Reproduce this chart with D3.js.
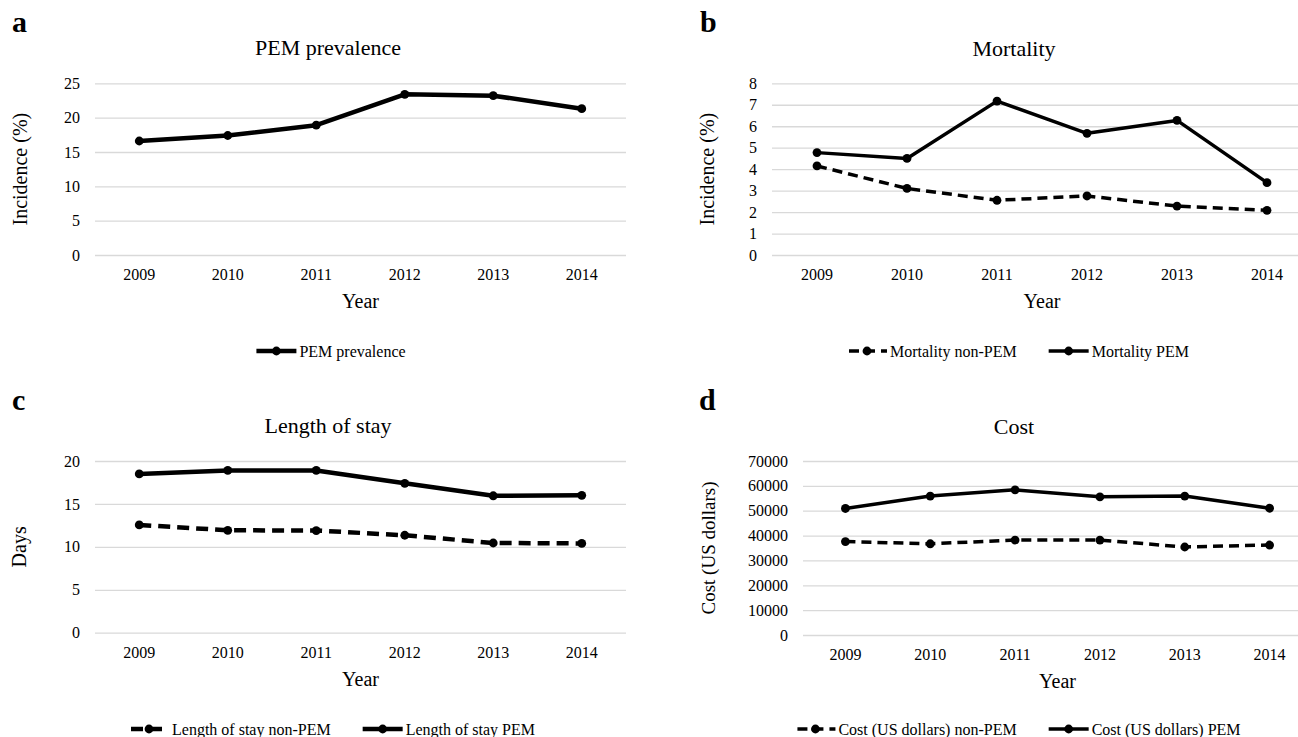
<!DOCTYPE html>
<html>
<head>
<meta charset="utf-8">
<script src="https://cdn.jsdelivr.net/npm/d3@7"></script>
<style>
  body { margin: 0; background: #fff; }
  svg { display: block; }
  text { font-family: "Liberation Serif", "Times New Roman", serif; fill: #000; }
</style>
</head>
<body>
<script>
// data
var years = ["2009", "2010", "2011", "2012", "2013", "2014"];

var pemPrevalence = [16.6, 17.4, 18.9, 23.4, 23.2, 21.3];

var mortalityNonPem = [4.15, 3.1, 2.55, 2.75, 2.28, 2.08];
var mortalityPem = [4.77, 4.5, 7.17, 5.67, 6.27, 3.37];

var losNonPem = [12.55, 11.93, 11.9, 11.35, 10.45, 10.4];
var losPem = [18.5, 18.9, 18.9, 17.4, 15.95, 16.0];

var costNonPem = [37600, 36700, 38200, 38200, 35400, 36200];
var costPem = [50900, 55900, 58400, 55600, 55900, 51000];

var prevalenceTicks = [0, 5, 10, 15, 20, 25];
var mortalityTicks = [0, 1, 2, 3, 4, 5, 6, 7, 8];
var daysTicks = [0, 5, 10, 15, 20];
var costTicks = [0, 10000, 20000, 30000, 40000, 50000, 60000, 70000];

var width = 1298, height = 737;

var svg = d3.select("body").append("svg")
    .attr("width", width)
    .attr("height", height);

// panel layouts
var panels = [
  {
    letter: "a", lx: 12, ly: 32,
    title: "PEM prevalence", tx: 328, ty: 55,
    yTitle: "Incidence (%)", ytx: 21, ytSize: 20,
    x0: 95, x1: 626, yTop: 83.3, yBot: 255,
    ticks: prevalenceTicks, lw: 4.5, dash: "12,7",
    tickY: 280, yearY: 308, legX: 331, legY: 351,
    series: [{ name: "PEM prevalence", values: pemPrevalence, dashed: false }]
  },
  {
    letter: "b", lx: 700, ly: 32,
    title: "Mortality", tx: 1014, ty: 55.5,
    yTitle: "Incidence (%)", ytx: 708, ytSize: 20,
    x0: 772, x1: 1312, yTop: 83.3, yBot: 255,
    ticks: mortalityTicks, lw: 3.5, dash: "10,6",
    tickY: 280, yearY: 308, legX: 1018, legY: 351,
    series: [
      { name: "Mortality non-PEM", values: mortalityNonPem, dashed: true },
      { name: "Mortality PEM", values: mortalityPem, dashed: false }
    ]
  },
  {
    letter: "c", lx: 12, ly: 409.5,
    title: "Length of stay", tx: 328, ty: 433,
    yTitle: "Days", ytx: 20, ytSize: 20,
    x0: 95, x1: 626, yTop: 461, yBot: 632.7,
    ticks: daysTicks, lw: 4.5, dash: "12,7",
    tickY: 658, yearY: 686, legX: 332, legY: 729,
    series: [
      { name: "Length of stay non-PEM", values: losNonPem, dashed: true },
      { name: "Length of stay PEM", values: losPem, dashed: false }
    ]
  },
  {
    letter: "d", lx: 699, ly: 409.5,
    title: "Cost", tx: 1014, ty: 433.5,
    yTitle: "Cost (US dollars)", ytx: 709, ytSize: 19,
    x0: 803, x1: 1312, yTop: 461, yBot: 635,
    ticks: costTicks, lw: 3.5, dash: "10,6",
    tickY: 660, yearY: 688, legX: 1018, legY: 729,
    series: [
      { name: "Cost (US dollars) non-PEM", values: costNonPem, dashed: true },
      { name: "Cost (US dollars) PEM", values: costPem, dashed: false }
    ]
  }
];

panels.forEach(function(p) {

  var g = svg.append("g");

  var x = d3.scaleBand().domain(years).range([p.x0, p.x1]);
  var y = d3.scaleLinear()
      .domain([0, d3.max(p.ticks)])
      .range([p.yBot, p.yTop]);

  var cx = function(d, i) { return x(years[i]) + x.bandwidth() / 2; };

  // panel letter
  g.append("text")
    .attr("x", p.lx)
    .attr("y", p.ly)
    .attr("font-size", "30px")
    .attr("font-weight", "bold")
    .text(p.letter);

  // chart title
  g.append("text")
    .attr("x", p.tx)
    .attr("y", p.ty)
    .attr("text-anchor", "middle")
    .attr("font-size", "22px")
    .text(p.title);

  // gridlines + y tick labels
  var yAxis = g.append("g")
    .attr("transform", "translate(" + p.x0 + ",0)")
    .call(d3.axisLeft(y).tickValues(p.ticks).tickSize(-(p.x1 - p.x0)).tickPadding(15).tickFormat(d3.format("d")));
  yAxis.select(".domain").remove();
  yAxis.selectAll("line").attr("stroke", "#d9d9d9").attr("stroke-width", 1.3);
  yAxis.selectAll("text")
    .attr("font-size", "16px")
    .attr("font-family", null)
    .attr("fill", "#000");
  yAxis.attr("font-family", null).attr("font-size", null);

  // x labels
  var xAxis = g.append("g")
    .attr("transform", "translate(0," + p.yBot + ")")
    .call(d3.axisBottom(x).tickSize(0));
  xAxis.select(".domain").remove();
  xAxis.attr("font-family", null).attr("font-size", null);
  xAxis.selectAll("text")
    .attr("y", p.tickY - p.yBot)
    .attr("dy", null)
    .attr("font-size", "16px")
    .attr("fill", "#000");

  // axis titles
  g.append("text")
    .attr("x", (p.x0 + p.x1) / 2)
    .attr("y", p.yearY)
    .attr("text-anchor", "middle")
    .attr("font-size", "20px")
    .text("Year");

  g.append("text")
    .attr("transform", "translate(" + (p.ytx + 6) + "," + ((p.yTop + p.yBot) / 2) + ") rotate(-90)")
    .attr("text-anchor", "middle")
    .attr("font-size", p.ytSize + "px")
    .text(p.yTitle);

  // series
  var line = d3.line()
    .x(cx)
    .y(function(d) { return y(d); });

  p.series.forEach(function(s) {
    g.append("path")
      .datum(s.values)
      .attr("d", line)
      .attr("fill", "none")
      .attr("stroke", "#000")
      .attr("stroke-width", p.lw)
      .attr("stroke-linejoin", "round")
      .attr("stroke-dasharray", s.dashed ? p.dash : null);

    g.selectAll(null)
      .data(s.values)
      .enter()
      .append("circle")
      .attr("cx", cx)
      .attr("cy", function(d) { return y(d); })
      .attr("r", 4.4)
      .attr("fill", "#000");
  });

  // legend, centred under the chart
  var leg = g.append("g");
  var offset = 0;
  var items = [];
  p.series.forEach(function(s, i) {
    var it = leg.append("g").attr("transform", "translate(" + offset + ",0)");
    it.append("line")
      .attr("x1", 0).attr("x2", 40)
      .attr("y1", 0).attr("y2", 0)
      .attr("stroke", "#000")
      .attr("stroke-width", p.lw)
      .attr("stroke-dasharray", s.dashed ? p.dash : null)
      .attr("stroke-dashoffset", s.dashed ? -2 : null);
    it.append("circle").attr("cx", 20).attr("cy", 0).attr("r", 4.4).attr("fill", "#000");
    var t = it.append("text")
      .attr("x", 43)
      .attr("y", 5.5)
      .attr("font-size", "16px")
      .text(s.name);
    offset += 43 + t.node().getComputedTextLength() + 32;
    items.push(it);
  });
  var total = offset - 32;
  leg.attr("transform", "translate(" + (p.legX - total / 2) + "," + p.legY + ")");
});
</script>
</body>
</html>
